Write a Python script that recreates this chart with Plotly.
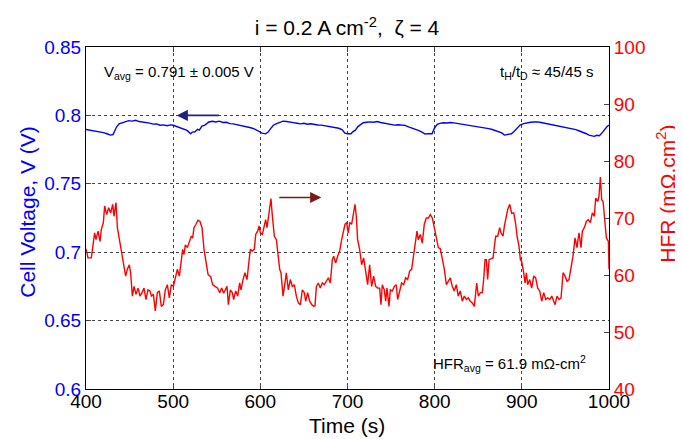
import plotly.graph_objects as go

# HFR trace (s, mOhm.cm2)
hfr_time = [400.0, 402.3, 406.1, 408.4, 409.9, 411.5, 413.8, 416.1, 417.6, 419.9,
            421.4, 423.7, 426.0, 428.3, 430.6, 432.1, 434.4, 436.0, 438.2, 440.5,
            442.8, 445.5, 447.4, 449.7, 451.2, 453.2, 455.1, 457.4, 459.7, 462.0,
            464.2, 466.5, 468.8, 471.1, 473.4, 475.0, 477.3, 479.5, 481.8, 484.1,
            486.4, 488.7, 491.0, 493.3, 495.6, 497.9, 500.2, 502.5, 504.8, 507.1,
            509.4, 510.9, 512.4, 514.0, 516.3, 518.5, 520.8, 522.4, 523.9, 526.2,
            528.5, 530.8, 533.1, 535.4, 537.7, 540.0, 543.0, 545.3, 548.0, 551.1,
            553.4, 555.6, 557.9, 560.2, 561.8, 563.3, 565.6, 567.9, 569.4, 571.7,
            574.0, 576.3, 577.8, 580.1, 582.4, 584.7, 587.0, 588.5, 590.8, 593.1,
            594.7, 596.9, 598.5, 600.0, 602.3, 604.6, 606.1, 607.7, 609.9, 612.2,
            613.8, 616.1, 618.4, 619.9, 622.2, 623.7, 626.0, 628.3, 629.8, 632.1,
            634.4, 636.7, 639.0, 641.3, 643.6, 645.9, 648.2, 650.5, 652.0, 654.3,
            656.6, 658.9, 661.2, 662.7, 664.3, 666.5, 668.8, 671.1, 673.4, 675.7,
            678.0, 680.3, 682.6, 684.1, 686.4, 688.7, 691.0, 693.3, 695.6, 697.1,
            699.0, 700.9, 702.5, 704.7, 706.3, 708.6, 710.1, 711.6, 713.9, 716.2,
            718.5, 720.8, 723.1, 725.4, 727.7, 730.0, 732.3, 734.6, 736.9, 738.4,
            739.9, 742.2, 743.8, 745.3, 747.6, 749.1, 751.4, 753.7, 756.0, 757.5,
            759.8, 762.1, 764.4, 766.7, 769.0, 771.3, 773.6, 775.9, 778.2, 779.7,
            781.2, 783.5, 785.8, 788.1, 790.4, 792.7, 795.0, 797.3, 799.6, 801.9,
            804.2, 806.5, 808.8, 811.1, 813.4, 815.6, 817.9, 820.2, 822.5, 824.8,
            827.1, 829.4, 831.7, 834.0, 836.3, 838.6, 840.9, 843.2, 845.5, 848.2,
            850.1, 852.4, 854.7, 856.2, 857.8, 859.3, 860.8, 862.4, 864.7, 867.0,
            868.5, 870.0, 872.3, 874.6, 876.1, 878.4, 880.0, 882.2, 883.8, 886.1,
            888.4, 890.7, 893.0, 894.5, 896.8, 898.3, 899.8, 902.1, 903.7, 905.2,
            906.7, 909.0, 911.3, 913.6, 915.9, 918.2, 920.5, 922.8, 925.1, 927.4,
            929.7, 932.0, 934.3, 936.6, 938.1, 940.4, 942.7, 945.0, 947.3, 949.6,
            951.8, 954.1, 956.4, 958.7, 961.0, 963.3, 965.6, 967.9, 969.4, 971.7,
            974.0, 976.3, 978.6, 980.9, 983.2, 984.7, 987.0, 988.5, 990.1, 991.6,
            993.2, 994.7, 997.0, 999.3, 1000.0]
hfr_vals = [64.6, 63.0, 63.0, 65.9, 67.4, 66.2, 67.7, 65.9, 68.0, 69.2,
            72.1, 70.6, 71.8, 70.9, 72.4, 70.3, 72.7, 68.3, 66.2, 64.2,
            61.8, 59.8, 61.0, 61.8, 60.4, 56.3, 58.0, 56.6, 57.7, 56.3,
            56.9, 57.7, 55.7, 57.4, 57.2, 56.3, 56.6, 53.7, 56.9, 57.2,
            54.5, 54.8, 57.4, 58.3, 56.0, 58.3, 58.0, 59.8, 61.0, 59.8,
            63.0, 64.5, 63.6, 65.3, 64.8, 65.9, 66.8, 66.5, 68.3, 68.9,
            69.6, 69.4, 68.3, 64.5, 62.1, 60.1, 59.7, 58.3, 58.0, 57.7,
            56.9, 57.7, 56.8, 57.7, 58.0, 54.8, 57.4, 56.9, 55.7, 57.2,
            56.3, 58.6, 57.4, 59.2, 60.4, 59.2, 62.1, 64.5, 64.2, 64.5,
            67.1, 67.7, 68.6, 67.4, 67.1, 68.6, 69.7, 68.3, 70.9, 73.4,
            70.3, 66.8, 66.2, 63.9, 61.0, 60.4, 56.3, 58.6, 60.4, 57.4,
            59.2, 58.0, 58.3, 56.3, 55.1, 54.8, 57.4, 56.9, 55.4, 56.9,
            55.4, 54.8, 54.5, 54.6, 58.0, 58.6, 57.7, 58.6, 58.3, 58.9,
            59.5, 58.6, 62.7, 63.3, 62.1, 63.3, 64.2, 66.2, 68.0, 68.9,
            69.2, 67.4, 69.2, 68.9, 70.3, 72.4, 70.3, 66.2, 64.5, 61.8,
            63.0, 60.4, 58.3, 61.8, 58.0, 59.8, 58.0, 57.7, 57.7, 54.8,
            58.3, 57.4, 55.4, 57.7, 54.5, 57.4, 57.2, 58.0, 58.3, 55.7,
            57.4, 58.6, 58.3, 59.5, 59.2, 60.7, 61.0, 63.9, 65.9, 67.7,
            66.2, 67.1, 65.6, 68.9, 70.0, 70.0, 70.6, 70.0, 68.3, 66.8,
            64.8, 64.6, 62.7, 61.0, 58.3, 58.9, 59.5, 58.0, 57.2, 58.3,
            56.3, 57.2, 55.4, 56.3, 55.7, 56.0, 55.4, 55.1, 54.5, 58.6,
            56.3, 56.9, 56.9, 59.2, 62.7, 62.7, 59.2, 62.7, 62.8, 63.0,
            65.0, 66.8, 66.8, 68.3, 67.4, 66.8, 68.6, 70.3, 71.5, 72.4,
            70.8, 70.9, 68.9, 66.8, 65.0, 62.7, 62.4, 60.4, 58.6, 60.4,
            58.3, 59.2, 57.7, 59.8, 59.5, 57.7, 57.2, 55.4, 56.9, 55.7,
            56.0, 55.7, 56.3, 55.4, 54.8, 56.3, 55.7, 56.0, 60.4, 59.8,
            58.9, 59.2, 61.0, 63.3, 66.5, 64.8, 67.4, 64.8, 67.7, 68.3,
            69.4, 69.7, 69.2, 70.9, 70.3, 73.5, 72.9, 73.8, 77.2, 73.2,
            72.9, 70.0, 66.5, 65.9, 61.0]

# cell voltage trace (s, V)
v_time = [400, 404, 408, 412, 416, 420, 424, 428, 431, 433, 435, 438, 441, 445, 449,
          453, 457, 461, 465, 469, 473, 477, 481, 485, 489, 493, 497, 500, 504, 508,
          512, 516, 520, 522, 525, 528, 530, 533, 536, 539, 541, 545, 549, 553, 557,
          561, 565, 569, 573, 577, 581, 585, 589, 593, 596, 599, 602, 606, 609, 612,
          615, 618, 622, 626, 630, 634, 638, 642, 646, 650, 654, 658, 662, 666, 670,
          674, 678, 682, 686, 690, 694, 697, 700, 704, 706, 709, 712, 715, 718, 722,
          726, 730, 734, 738, 742, 746, 750, 754, 758, 762, 766, 770, 774, 778, 782,
          786, 789, 793, 797, 800, 803, 806, 810, 814, 818, 822, 826, 830, 834, 838,
          842, 846, 850, 854, 858, 862, 866, 870, 874, 877, 880, 884, 888, 891, 894,
          898, 902, 906, 910, 914, 918, 922, 926, 930, 934, 938, 942, 946, 950, 954,
          958, 962, 966, 970, 974, 977, 980, 983, 986, 989, 992, 995, 998, 1000]
v_vals = [0.7897, 0.7893, 0.7888, 0.7884, 0.7879, 0.7874, 0.7866, 0.7856, 0.7860, 0.7895,
          0.7915, 0.7938, 0.7946, 0.7956, 0.7962, 0.7958, 0.7964, 0.7955, 0.7952, 0.7948,
          0.7944, 0.7936, 0.7938, 0.7928, 0.7931, 0.7925, 0.7931, 0.7928, 0.7918, 0.7910,
          0.7899, 0.7890, 0.7866, 0.7878, 0.7880, 0.7898, 0.7893, 0.7922, 0.7927, 0.7940,
          0.7952, 0.7957, 0.7952, 0.7958, 0.7948, 0.7950, 0.7940, 0.7938, 0.7933, 0.7930,
          0.7922, 0.7919, 0.7910, 0.7902, 0.7892, 0.7878, 0.7870, 0.7865, 0.7878, 0.7905,
          0.7928, 0.7938, 0.7948, 0.7958, 0.7955, 0.7953, 0.7947, 0.7943, 0.7938, 0.7942,
          0.7935, 0.7939, 0.7932, 0.7930, 0.7929, 0.7924, 0.7922, 0.7918, 0.7914, 0.7906,
          0.7895, 0.7870, 0.7866, 0.7866, 0.7880, 0.7892, 0.7918, 0.7935, 0.7946, 0.7950,
          0.7953, 0.7950, 0.7955, 0.7948, 0.7944, 0.7935, 0.7933, 0.7929, 0.7932, 0.7928,
          0.7927, 0.7916, 0.7908, 0.7897, 0.7889, 0.7876, 0.7864, 0.7867, 0.7866, 0.7910,
          0.7935, 0.7942, 0.7946, 0.7944, 0.7948, 0.7945, 0.7941, 0.7937, 0.7934, 0.7930,
          0.7926, 0.7922, 0.7919, 0.7914, 0.7909, 0.7903, 0.7897, 0.7888, 0.7880, 0.7872,
          0.7856, 0.7862, 0.7866, 0.7883, 0.7905, 0.7929, 0.7940, 0.7946, 0.7950, 0.7952,
          0.7953, 0.7948, 0.7943, 0.7937, 0.7929, 0.7926, 0.7918, 0.7914, 0.7912, 0.7906,
          0.7903, 0.7896, 0.7886, 0.7878, 0.7866, 0.7856, 0.7850, 0.7847, 0.7855, 0.7852,
          0.7872, 0.7900, 0.7921, 0.7929]

x_ticks = [400, 500, 600, 700, 800, 900, 1000]
v_ticks = [0.6, 0.65, 0.7, 0.75, 0.8, 0.85]
v_ticklabels = ["0.6", "0.65", "0.7", "0.75", "0.8", "0.85"]
hfr_ticks = [40, 50, 60, 70, 80, 90, 100]

FONT = "Liberation Sans, Arial, sans-serif"
BLUE = "#0000ff"
RED = "#ff0000"

# the page puts the plot div 8px in from the top-left corner, so the
# margins are shifted to land the axes where the reference has them
PAD = 8

fig = go.Figure()
fig.add_trace(go.Scatter(x=v_time, y=v_vals, mode="lines",
                         line=dict(color=BLUE, width=1.4), yaxis="y"))
fig.add_trace(go.Scatter(x=hfr_time, y=hfr_vals, mode="lines",
                         line=dict(color=RED, width=1.4), yaxis="y2"))

grid = dict(showgrid=True, gridcolor="#444444", griddash="dot", gridwidth=1)

fig.update_layout(
    width=683, height=439,
    margin=dict(l=86 - PAD, r=74 + PAD, t=47 - PAD, b=50 + PAD, autoexpand=False),
    paper_bgcolor="white", plot_bgcolor="white",
    showlegend=False,
    font=dict(family=FONT, color="black"),
    title=dict(text="i = 0.2 A cm<sup>-2</sup>,  ζ = 4", x=(347 - PAD) / 683, xanchor="center",
               y=1 - (28 - PAD) / 439, yanchor="middle", font=dict(size=21, color="black"),
               automargin=False),
    xaxis=dict(range=[400, 1000], tickvals=x_ticks, ticks="inside", ticklen=5,
               showline=True, linecolor="black", linewidth=1, mirror="ticks",
               zeroline=False, automargin=False, ticklabelstandoff=-5,
               tickfont=dict(size=19, color="black"), **grid),
    yaxis=dict(range=[0.6, 0.85], tickvals=v_ticks, ticktext=v_ticklabels,
               ticks="inside", ticklen=5, showline=True, linecolor="black",
               linewidth=1, mirror=True, zeroline=False, automargin=False,
               tickfont=dict(size=19, color=BLUE), **grid),
    yaxis2=dict(range=[40, 100], tickvals=hfr_ticks, overlaying="y", side="right",
                ticks="inside", ticklen=5, showline=True, linecolor="black",
                linewidth=1, showgrid=False, zeroline=False, automargin=False,
                tickfont=dict(size=19, color=RED)),
)

# axis titles placed as text (pixel spots from the reference, as domain fractions)
fig.add_annotation(x=28, y=212, xref="x domain", yref="y domain", text="Cell Voltage, V (V)",
                   showarrow=False, textangle=-90, font=dict(size=21, color=BLUE))
fig.add_annotation(x=666, y=194, xref="x domain", yref="y domain",
                   text="HFR (mΩ.cm<sup>2</sup>)", showarrow=False, textangle=-90,
                   font=dict(size=21, color=RED))
fig.add_annotation(x=347, y=426, xref="x domain", yref="y domain", text="Time (s)",
                   showarrow=False, font=dict(size=21, color="black"))
for a in fig.layout.annotations:
    a.x = (a.x - 86) / 523
    a.y = 1 - (a.y - 47) / 342.5
    a.xanchor = "center"
    a.yanchor = "middle"

# direction arrows
fig.add_annotation(x=504, y=0.8, ax=554, ay=0.8, xref="x", yref="y", axref="x", ayref="y",
                   text="", showarrow=True, arrowhead=2, arrowsize=1.4, arrowwidth=1.6,
                   arrowcolor="#22227a")
fig.add_annotation(x=670, y=0.74, ax=620, ay=0.74, xref="x", yref="y", axref="x", ayref="y",
                   text="", showarrow=True, arrowhead=2, arrowsize=1.4, arrowwidth=1.6,
                   arrowcolor="#7a1a1a")

# text labels
fig.add_annotation(x=0.031, y=0.924, xref="paper", yref="paper", xanchor="left", yanchor="middle",
                   text="V<sub>avg</sub> = 0.791 ± 0.005 V", showarrow=False,
                   font=dict(size=15, color="black"))
fig.add_annotation(x=0.973, y=0.924, xref="paper", yref="paper", xanchor="right", yanchor="middle",
                   text="t<sub>H</sub>/t<sub>D</sub> ≈ 45/45 s", showarrow=False,
                   font=dict(size=15, color="black"))
fig.add_annotation(x=0.96, y=0.076, xref="paper", yref="paper", xanchor="right", yanchor="middle",
                   text="HFR<sub>avg</sub> = 61.9 mΩ-cm<sup>2</sup>", showarrow=False,
                   font=dict(size=15, color="black"))

fig.write_html("out.html")
